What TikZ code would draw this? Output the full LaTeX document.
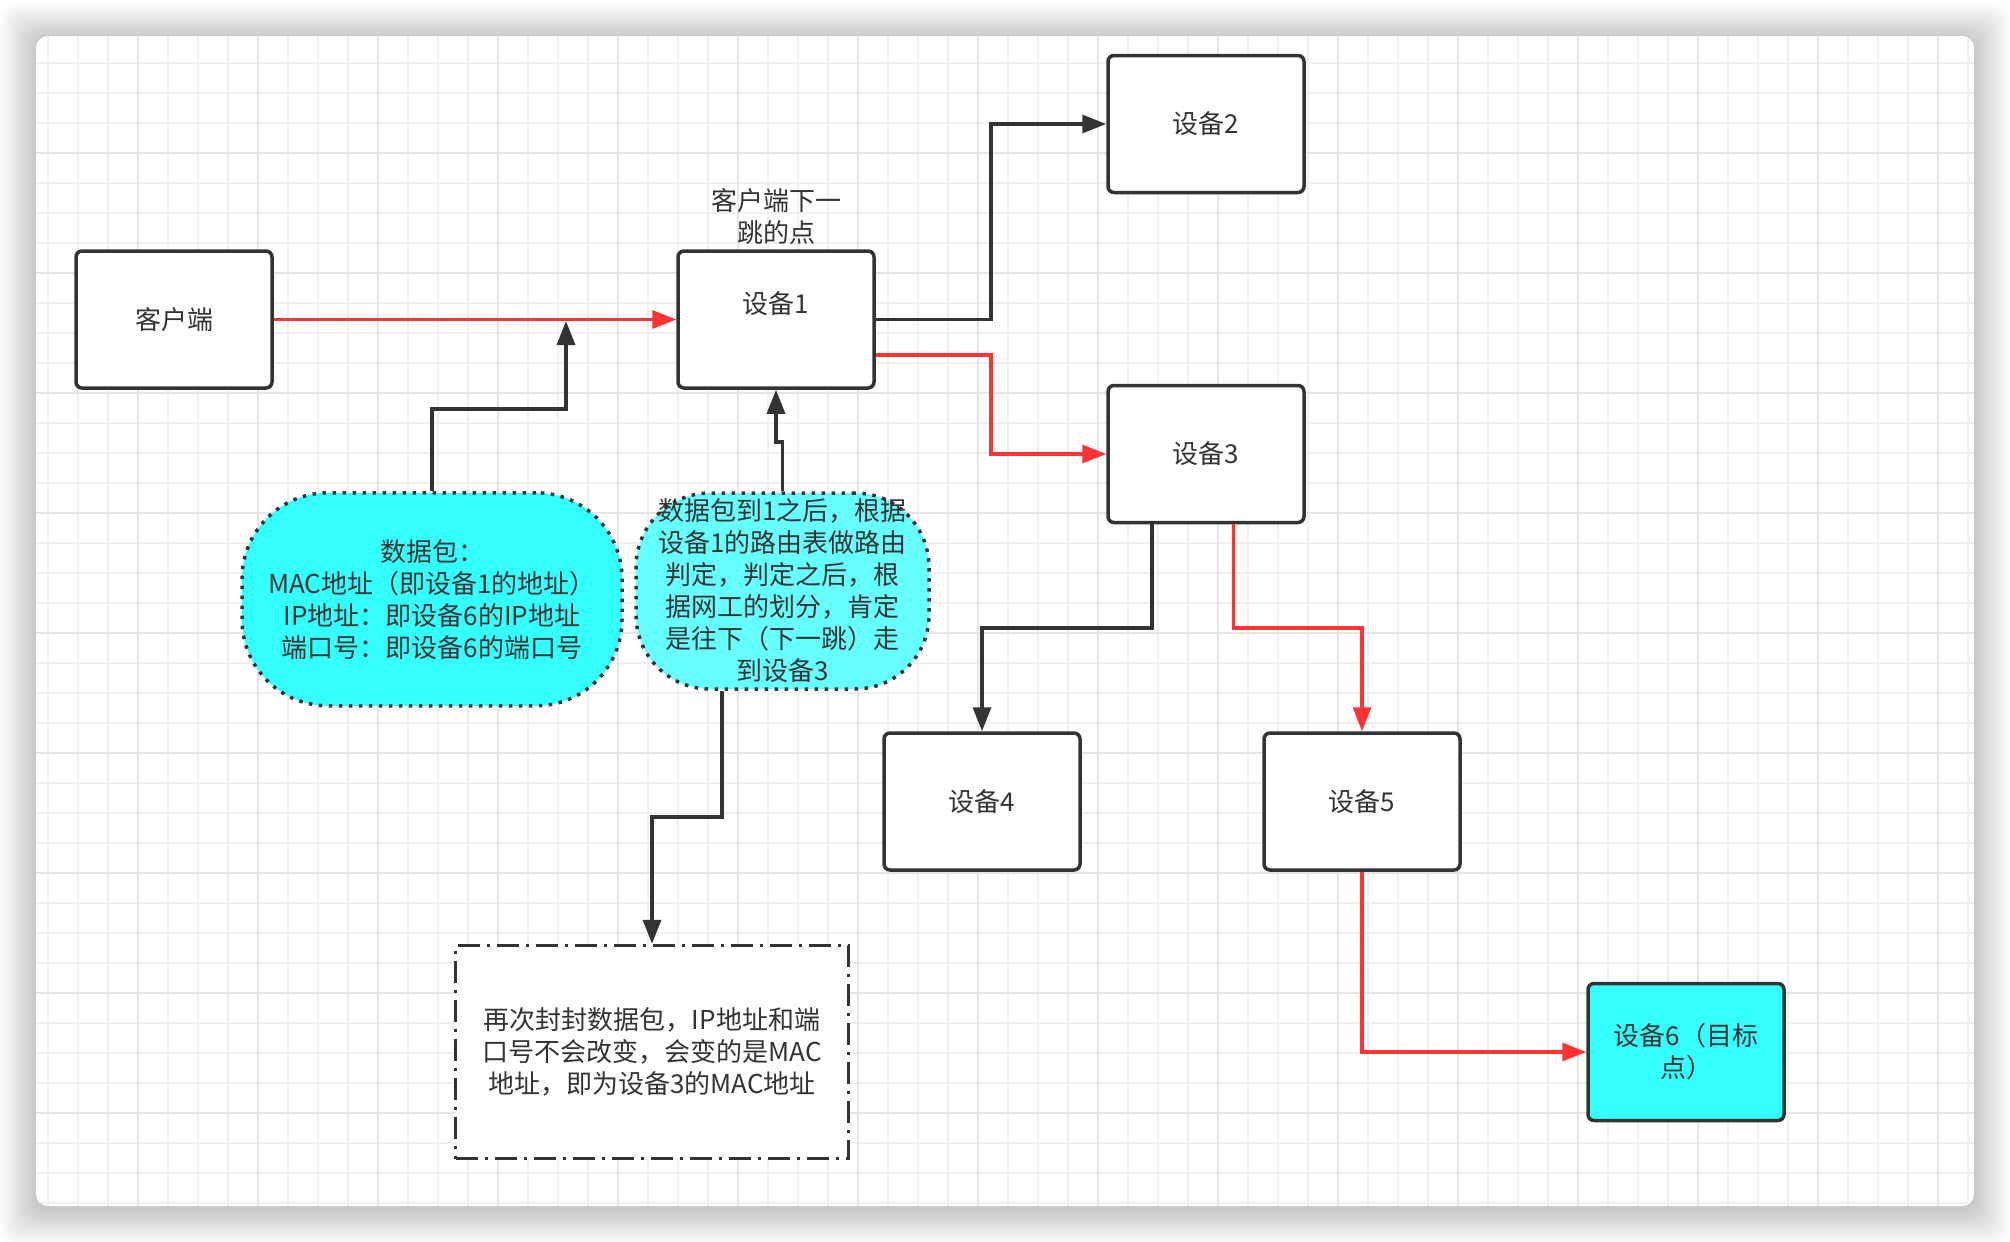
\documentclass[tikz,border=0pt]{standalone}
\usepackage{fontspec}
\setmainfont{Noto Sans CJK SC}
\usetikzlibrary{arrows.meta}
\definecolor{ink}{HTML}{333333}
\definecolor{redl}{HTML}{FF3333}
\definecolor{cyanA}{HTML}{33FFFF}
\definecolor{cyanB}{HTML}{66FFFF}
\definecolor{gridminor}{HTML}{F0F0F0}
\definecolor{gridmajor}{HTML}{E5E5E5}
\begin{document}
\begin{tikzpicture}[x=0.5pt,y=-0.5pt,
  every node/.style={font=\fontsize{13pt}{16pt}\selectfont, text=ink},
  devbox/.style={draw=ink, line width=1.75pt, rounded corners=3pt, fill=white,
    minimum width=98pt, minimum height=68.5pt, inner sep=0pt, align=center},
  bubble/.style={draw=ink, line width=1.75pt, dash pattern=on 1.75pt off 3.25pt,
    inner sep=0pt, align=center},
  dashdot box/.style={draw=ink, line width=1.75pt,
    dash pattern=on 11pt off 3.5pt on 1.5pt off 3.5pt, fill=white,
    inner sep=0pt, align=center, minimum width=196.5pt, minimum height=106.5pt},
  plain label/.style={inner sep=0pt, align=center},
  conn/.style={draw=ink, line width=1.7pt, -{Triangle[length=12pt,width=9pt]}},
  rconn/.style={draw=redl, line width=1.65pt, -{Triangle[length=12pt,width=9pt]}},
]
\useasboundingbox (0,0) rectangle (2010,1242);
\fill[white] (0,0) rectangle (2010,1242);
% shadow
\foreach \i in {1,...,18}{
  \fill[black, opacity=0.012, rounded corners=8pt] (36-2*\i, 39-2*\i) rectangle (1974+2*\i, 1209+2*\i);
}
% canvas and grid
\begin{scope}
  \clip[rounded corners=6pt] (36,36) rectangle (1974,1206);
  \fill[white] (36,36) rectangle (1974,1206);
  \foreach \k in {0,...,64}{
    \draw[gridminor, line width=1pt] (47.5+30*\k,36) -- (47.5+30*\k,1206);
  }
  \foreach \k in {0,...,38}{
    \draw[gridminor, line width=1pt] (36,63+30*\k) -- (1974,63+30*\k);
  }
  \foreach \k in {0,...,15}{
    \draw[gridmajor, line width=1pt] (137.5+120*\k,36) -- (137.5+120*\k,1206);
  }
  \foreach \k in {0,...,8}{
    \draw[gridmajor, line width=1pt] (36,153+120*\k) -- (1974,153+120*\k);
  }
\end{scope}

% nodes
\node[devbox] (client) at (174,319.5) {客户端};
\node[devbox, text height=10pt, text depth=16pt] (d1) at (776,319.5) {设备1};
\node[plain label] (lbl) at (776,217) {客户端下一\\跳的点};
\node[devbox] (d2) at (1206,124) {设备2};
\node[devbox] (d3) at (1206,454) {设备3};
\node[devbox] (d4) at (982,801.5) {设备4};
\node[devbox] (d5) at (1362,801.5) {设备5};
\node[devbox, fill=cyanA] (d6) at (1686,1052) {设备6（目标\\点）};
\node[bubble, fill=cyanA, rounded corners=43pt, minimum width=190pt, minimum height=106.5pt]
  (b1) at (432,599.3) {数据包：\\MAC地址（即设备1的地址）\\IP地址：即设备6的IP地址\\端口号：即设备6的端口号};
\node[bubble, fill=cyanB, rounded corners=37pt, minimum width=146.5pt, minimum height=98pt]
  (b2) at (782.5,591) {数据包到1之后，根据\\设备1的路由表做路由\\判定，判定之后，根\\据网工的划分，肯定\\是往下（下一跳）走\\到设备3};
\node[dashdot box] (b3) at (652,1052) {再次封封数据包，IP地址和端\\口号不会改变，会变的是MAC\\地址，即为设备3的MAC地址};

% junction coordinates
\coordinate (j1) at (991,124);
\coordinate (j2) at (991,454);
\coordinate (j3) at (982,628);
\coordinate (j4) at (1362,628);
\coordinate (j5) at (566,409);
\coordinate (t1) at (566,321);
\coordinate (j6) at (782.5,442);
\coordinate (j7) at (652,817);

% connectors
\draw[rconn] (client) -- (d1);
\draw[conn] (d1.east) -| (j1) -- (d2.west);
\draw[rconn] ([yshift=-17.75pt]d1.east) -| (j2) -- (d3.west);
\draw[conn] ([xshift=-27pt]d3.south) |- (j3) -- (d4.north);
\draw[rconn] ([xshift=13.75pt]d3.south) |- (j4) -- (d5.north);
\draw[rconn] (d5.south) |- (d6.west);
\draw[conn] (b1.north) |- (j5) -- (t1);
\draw[conn] (b2.north) -- (j6) -| (d1.south);
\draw[conn] ([xshift=-30.25pt]b2.south) |- (j7) -- (b3.north);
\end{tikzpicture}
\end{document}
